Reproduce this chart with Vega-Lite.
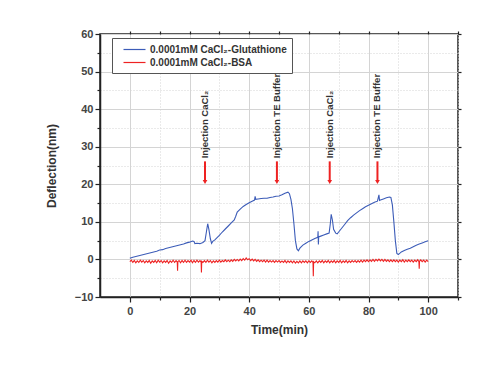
{
  "$schema": "https://vega.github.io/schema/vega-lite/v6.json",
  "width": 358,
  "height": 263,
  "autosize": {"type": "none"},
  "padding": {"left": 100, "top": 34, "right": 28, "bottom": 68},
  "background": "white",
  "config": {
    "font": "Liberation Sans",
    "view": {"stroke": "#222", "strokeWidth": 1.5},
    "axis": {"domainColor": "#222", "domainWidth": 1.5, "tickColor": "#222", "tickWidth": 1.2, "labelFontSize": 11, "labelFontWeight": "bold", "labelColor": "#444", "titleFontSize": 12, "titleFontWeight": "bold", "titleColor": "#333"}
  },
  "datasets": {
    "curves": [
      {"s": "0.0001mM CaCl₂-Glutathione", "t": 0, "v": 0.3},
      {"s": "0.0001mM CaCl₂-Glutathione", "t": 1, "v": 0.6},
      {"s": "0.0001mM CaCl₂-Glutathione", "t": 2, "v": 0.8},
      {"s": "0.0001mM CaCl₂-Glutathione", "t": 3, "v": 1.0},
      {"s": "0.0001mM CaCl₂-Glutathione", "t": 4, "v": 1.2},
      {"s": "0.0001mM CaCl₂-Glutathione", "t": 5, "v": 1.4},
      {"s": "0.0001mM CaCl₂-Glutathione", "t": 6, "v": 1.6},
      {"s": "0.0001mM CaCl₂-Glutathione", "t": 7, "v": 1.8},
      {"s": "0.0001mM CaCl₂-Glutathione", "t": 8, "v": 2.0},
      {"s": "0.0001mM CaCl₂-Glutathione", "t": 9, "v": 2.2},
      {"s": "0.0001mM CaCl₂-Glutathione", "t": 10, "v": 2.5},
      {"s": "0.0001mM CaCl₂-Glutathione", "t": 11, "v": 2.6},
      {"s": "0.0001mM CaCl₂-Glutathione", "t": 12, "v": 2.9},
      {"s": "0.0001mM CaCl₂-Glutathione", "t": 13, "v": 3.1},
      {"s": "0.0001mM CaCl₂-Glutathione", "t": 14, "v": 3.3},
      {"s": "0.0001mM CaCl₂-Glutathione", "t": 15, "v": 3.5},
      {"s": "0.0001mM CaCl₂-Glutathione", "t": 16, "v": 3.7},
      {"s": "0.0001mM CaCl₂-Glutathione", "t": 17, "v": 3.9},
      {"s": "0.0001mM CaCl₂-Glutathione", "t": 18, "v": 4.1},
      {"s": "0.0001mM CaCl₂-Glutathione", "t": 19, "v": 4.4},
      {"s": "0.0001mM CaCl₂-Glutathione", "t": 20, "v": 4.6},
      {"s": "0.0001mM CaCl₂-Glutathione", "t": 21, "v": 4.9},
      {"s": "0.0001mM CaCl₂-Glutathione", "t": 21.5, "v": 4.8},
      {"s": "0.0001mM CaCl₂-Glutathione", "t": 21.8, "v": 4.2},
      {"s": "0.0001mM CaCl₂-Glutathione", "t": 22.5, "v": 4.3},
      {"s": "0.0001mM CaCl₂-Glutathione", "t": 23.5, "v": 4.2},
      {"s": "0.0001mM CaCl₂-Glutathione", "t": 24.5, "v": 4.5},
      {"s": "0.0001mM CaCl₂-Glutathione", "t": 25.2, "v": 5.0},
      {"s": "0.0001mM CaCl₂-Glutathione", "t": 25.7, "v": 7.5},
      {"s": "0.0001mM CaCl₂-Glutathione", "t": 26.1, "v": 9.5},
      {"s": "0.0001mM CaCl₂-Glutathione", "t": 26.5, "v": 8.0},
      {"s": "0.0001mM CaCl₂-Glutathione", "t": 27, "v": 5.5},
      {"s": "0.0001mM CaCl₂-Glutathione", "t": 27.4, "v": 4.3},
      {"s": "0.0001mM CaCl₂-Glutathione", "t": 27.8, "v": 4.8},
      {"s": "0.0001mM CaCl₂-Glutathione", "t": 28.5, "v": 5.2},
      {"s": "0.0001mM CaCl₂-Glutathione", "t": 29, "v": 5.6},
      {"s": "0.0001mM CaCl₂-Glutathione", "t": 30, "v": 6.4},
      {"s": "0.0001mM CaCl₂-Glutathione", "t": 31, "v": 7.3},
      {"s": "0.0001mM CaCl₂-Glutathione", "t": 32, "v": 8.1},
      {"s": "0.0001mM CaCl₂-Glutathione", "t": 33, "v": 8.9},
      {"s": "0.0001mM CaCl₂-Glutathione", "t": 34, "v": 9.7},
      {"s": "0.0001mM CaCl₂-Glutathione", "t": 35, "v": 10.5},
      {"s": "0.0001mM CaCl₂-Glutathione", "t": 35.5, "v": 11.5},
      {"s": "0.0001mM CaCl₂-Glutathione", "t": 36, "v": 12.6},
      {"s": "0.0001mM CaCl₂-Glutathione", "t": 37, "v": 13.4},
      {"s": "0.0001mM CaCl₂-Glutathione", "t": 38, "v": 14.1},
      {"s": "0.0001mM CaCl₂-Glutathione", "t": 39, "v": 14.6},
      {"s": "0.0001mM CaCl₂-Glutathione", "t": 40, "v": 15.1},
      {"s": "0.0001mM CaCl₂-Glutathione", "t": 41, "v": 15.5},
      {"s": "0.0001mM CaCl₂-Glutathione", "t": 41.8, "v": 15.8},
      {"s": "0.0001mM CaCl₂-Glutathione", "t": 42, "v": 16.8},
      {"s": "0.0001mM CaCl₂-Glutathione", "t": 42.2, "v": 16.0},
      {"s": "0.0001mM CaCl₂-Glutathione", "t": 43, "v": 16.1},
      {"s": "0.0001mM CaCl₂-Glutathione", "t": 44, "v": 16.2},
      {"s": "0.0001mM CaCl₂-Glutathione", "t": 45, "v": 16.3},
      {"s": "0.0001mM CaCl₂-Glutathione", "t": 46, "v": 16.3},
      {"s": "0.0001mM CaCl₂-Glutathione", "t": 47, "v": 16.5},
      {"s": "0.0001mM CaCl₂-Glutathione", "t": 48, "v": 16.6},
      {"s": "0.0001mM CaCl₂-Glutathione", "t": 49, "v": 16.8},
      {"s": "0.0001mM CaCl₂-Glutathione", "t": 50, "v": 16.9},
      {"s": "0.0001mM CaCl₂-Glutathione", "t": 51, "v": 17.2},
      {"s": "0.0001mM CaCl₂-Glutathione", "t": 52, "v": 17.6},
      {"s": "0.0001mM CaCl₂-Glutathione", "t": 53, "v": 17.9},
      {"s": "0.0001mM CaCl₂-Glutathione", "t": 53.5, "v": 17.5},
      {"s": "0.0001mM CaCl₂-Glutathione", "t": 54, "v": 16.0},
      {"s": "0.0001mM CaCl₂-Glutathione", "t": 54.5, "v": 13.5},
      {"s": "0.0001mM CaCl₂-Glutathione", "t": 55, "v": 9.5},
      {"s": "0.0001mM CaCl₂-Glutathione", "t": 55.5, "v": 5.0},
      {"s": "0.0001mM CaCl₂-Glutathione", "t": 56, "v": 2.8},
      {"s": "0.0001mM CaCl₂-Glutathione", "t": 56.5, "v": 2.3},
      {"s": "0.0001mM CaCl₂-Glutathione", "t": 57, "v": 3.0},
      {"s": "0.0001mM CaCl₂-Glutathione", "t": 58, "v": 3.8},
      {"s": "0.0001mM CaCl₂-Glutathione", "t": 59, "v": 4.3},
      {"s": "0.0001mM CaCl₂-Glutathione", "t": 60, "v": 4.8},
      {"s": "0.0001mM CaCl₂-Glutathione", "t": 61, "v": 5.2},
      {"s": "0.0001mM CaCl₂-Glutathione", "t": 62, "v": 5.6},
      {"s": "0.0001mM CaCl₂-Glutathione", "t": 63, "v": 5.9},
      {"s": "0.0001mM CaCl₂-Glutathione", "t": 63.1, "v": 7.5},
      {"s": "0.0001mM CaCl₂-Glutathione", "t": 63.2, "v": 4.0},
      {"s": "0.0001mM CaCl₂-Glutathione", "t": 63.3, "v": 6.0},
      {"s": "0.0001mM CaCl₂-Glutathione", "t": 64, "v": 6.2},
      {"s": "0.0001mM CaCl₂-Glutathione", "t": 65, "v": 6.5},
      {"s": "0.0001mM CaCl₂-Glutathione", "t": 66, "v": 6.8},
      {"s": "0.0001mM CaCl₂-Glutathione", "t": 66.8, "v": 7.0},
      {"s": "0.0001mM CaCl₂-Glutathione", "t": 67.2, "v": 9.5},
      {"s": "0.0001mM CaCl₂-Glutathione", "t": 67.5, "v": 12.0},
      {"s": "0.0001mM CaCl₂-Glutathione", "t": 67.9, "v": 10.5},
      {"s": "0.0001mM CaCl₂-Glutathione", "t": 68.3, "v": 8.0},
      {"s": "0.0001mM CaCl₂-Glutathione", "t": 69, "v": 7.0},
      {"s": "0.0001mM CaCl₂-Glutathione", "t": 69.5, "v": 6.8},
      {"s": "0.0001mM CaCl₂-Glutathione", "t": 70, "v": 7.3},
      {"s": "0.0001mM CaCl₂-Glutathione", "t": 71, "v": 8.3},
      {"s": "0.0001mM CaCl₂-Glutathione", "t": 72, "v": 9.3},
      {"s": "0.0001mM CaCl₂-Glutathione", "t": 73, "v": 10.3},
      {"s": "0.0001mM CaCl₂-Glutathione", "t": 74, "v": 11.1},
      {"s": "0.0001mM CaCl₂-Glutathione", "t": 75, "v": 11.8},
      {"s": "0.0001mM CaCl₂-Glutathione", "t": 76, "v": 12.4},
      {"s": "0.0001mM CaCl₂-Glutathione", "t": 77, "v": 13.0},
      {"s": "0.0001mM CaCl₂-Glutathione", "t": 78, "v": 13.5},
      {"s": "0.0001mM CaCl₂-Glutathione", "t": 79, "v": 14.0},
      {"s": "0.0001mM CaCl₂-Glutathione", "t": 80, "v": 14.4},
      {"s": "0.0001mM CaCl₂-Glutathione", "t": 81, "v": 14.8},
      {"s": "0.0001mM CaCl₂-Glutathione", "t": 82, "v": 15.2},
      {"s": "0.0001mM CaCl₂-Glutathione", "t": 83, "v": 15.5},
      {"s": "0.0001mM CaCl₂-Glutathione", "t": 83.5, "v": 17.2},
      {"s": "0.0001mM CaCl₂-Glutathione", "t": 83.7, "v": 15.7},
      {"s": "0.0001mM CaCl₂-Glutathione", "t": 84, "v": 15.8},
      {"s": "0.0001mM CaCl₂-Glutathione", "t": 85, "v": 16.1},
      {"s": "0.0001mM CaCl₂-Glutathione", "t": 86, "v": 16.4},
      {"s": "0.0001mM CaCl₂-Glutathione", "t": 87, "v": 16.6},
      {"s": "0.0001mM CaCl₂-Glutathione", "t": 87.5, "v": 16.5},
      {"s": "0.0001mM CaCl₂-Glutathione", "t": 88, "v": 14.5},
      {"s": "0.0001mM CaCl₂-Glutathione", "t": 88.5, "v": 10.0},
      {"s": "0.0001mM CaCl₂-Glutathione", "t": 89, "v": 5.0},
      {"s": "0.0001mM CaCl₂-Glutathione", "t": 89.5, "v": 1.6},
      {"s": "0.0001mM CaCl₂-Glutathione", "t": 90, "v": 1.3},
      {"s": "0.0001mM CaCl₂-Glutathione", "t": 91, "v": 2.0},
      {"s": "0.0001mM CaCl₂-Glutathione", "t": 92, "v": 2.4},
      {"s": "0.0001mM CaCl₂-Glutathione", "t": 93, "v": 2.7},
      {"s": "0.0001mM CaCl₂-Glutathione", "t": 94, "v": 3.0},
      {"s": "0.0001mM CaCl₂-Glutathione", "t": 95, "v": 3.4},
      {"s": "0.0001mM CaCl₂-Glutathione", "t": 96, "v": 3.8},
      {"s": "0.0001mM CaCl₂-Glutathione", "t": 97, "v": 4.1},
      {"s": "0.0001mM CaCl₂-Glutathione", "t": 98, "v": 4.4},
      {"s": "0.0001mM CaCl₂-Glutathione", "t": 99, "v": 4.7},
      {"s": "0.0001mM CaCl₂-Glutathione", "t": 100, "v": 5.0},
      {"s": "0.0001mM CaCl₂-BSA", "t": 0, "v": -0.6},
      {"s": "0.0001mM CaCl₂-BSA", "t": 0.5, "v": -0.2},
      {"s": "0.0001mM CaCl₂-BSA", "t": 1, "v": -0.8},
      {"s": "0.0001mM CaCl₂-BSA", "t": 1.5, "v": -0.3},
      {"s": "0.0001mM CaCl₂-BSA", "t": 2, "v": -0.9},
      {"s": "0.0001mM CaCl₂-BSA", "t": 2.5, "v": -0.4},
      {"s": "0.0001mM CaCl₂-BSA", "t": 3, "v": -0.8},
      {"s": "0.0001mM CaCl₂-BSA", "t": 3.5, "v": -0.2},
      {"s": "0.0001mM CaCl₂-BSA", "t": 4, "v": -0.7},
      {"s": "0.0001mM CaCl₂-BSA", "t": 4.5, "v": -0.3},
      {"s": "0.0001mM CaCl₂-BSA", "t": 5, "v": -0.9},
      {"s": "0.0001mM CaCl₂-BSA", "t": 5.5, "v": -0.4},
      {"s": "0.0001mM CaCl₂-BSA", "t": 6, "v": -0.8},
      {"s": "0.0001mM CaCl₂-BSA", "t": 6.5, "v": -0.3},
      {"s": "0.0001mM CaCl₂-BSA", "t": 7, "v": -1.0},
      {"s": "0.0001mM CaCl₂-BSA", "t": 7.5, "v": -0.4},
      {"s": "0.0001mM CaCl₂-BSA", "t": 8, "v": -0.8},
      {"s": "0.0001mM CaCl₂-BSA", "t": 8.5, "v": -0.3},
      {"s": "0.0001mM CaCl₂-BSA", "t": 9, "v": -0.9},
      {"s": "0.0001mM CaCl₂-BSA", "t": 9.5, "v": -0.2},
      {"s": "0.0001mM CaCl₂-BSA", "t": 10, "v": -0.7},
      {"s": "0.0001mM CaCl₂-BSA", "t": 10.5, "v": -0.3},
      {"s": "0.0001mM CaCl₂-BSA", "t": 11, "v": -0.9},
      {"s": "0.0001mM CaCl₂-BSA", "t": 11.5, "v": -0.4},
      {"s": "0.0001mM CaCl₂-BSA", "t": 12, "v": -0.8},
      {"s": "0.0001mM CaCl₂-BSA", "t": 12.5, "v": -0.3},
      {"s": "0.0001mM CaCl₂-BSA", "t": 13, "v": -1.0},
      {"s": "0.0001mM CaCl₂-BSA", "t": 13.5, "v": -0.4},
      {"s": "0.0001mM CaCl₂-BSA", "t": 14, "v": -0.8},
      {"s": "0.0001mM CaCl₂-BSA", "t": 14.5, "v": -0.2},
      {"s": "0.0001mM CaCl₂-BSA", "t": 15, "v": -0.8},
      {"s": "0.0001mM CaCl₂-BSA", "t": 15.5, "v": -0.3},
      {"s": "0.0001mM CaCl₂-BSA", "t": 15.9, "v": -0.7},
      {"s": "0.0001mM CaCl₂-BSA", "t": 16, "v": -3.0},
      {"s": "0.0001mM CaCl₂-BSA", "t": 16.1, "v": -0.6},
      {"s": "0.0001mM CaCl₂-BSA", "t": 16.5, "v": -0.3},
      {"s": "0.0001mM CaCl₂-BSA", "t": 17, "v": -0.9},
      {"s": "0.0001mM CaCl₂-BSA", "t": 17.5, "v": -0.3},
      {"s": "0.0001mM CaCl₂-BSA", "t": 18, "v": -0.8},
      {"s": "0.0001mM CaCl₂-BSA", "t": 18.5, "v": -0.2},
      {"s": "0.0001mM CaCl₂-BSA", "t": 19, "v": -0.8},
      {"s": "0.0001mM CaCl₂-BSA", "t": 19.5, "v": -0.3},
      {"s": "0.0001mM CaCl₂-BSA", "t": 20, "v": -0.7},
      {"s": "0.0001mM CaCl₂-BSA", "t": 20.5, "v": -0.2},
      {"s": "0.0001mM CaCl₂-BSA", "t": 21, "v": -0.9},
      {"s": "0.0001mM CaCl₂-BSA", "t": 21.5, "v": -0.3},
      {"s": "0.0001mM CaCl₂-BSA", "t": 22, "v": -0.8},
      {"s": "0.0001mM CaCl₂-BSA", "t": 22.5, "v": -0.2},
      {"s": "0.0001mM CaCl₂-BSA", "t": 23, "v": -0.7},
      {"s": "0.0001mM CaCl₂-BSA", "t": 23.5, "v": -0.3},
      {"s": "0.0001mM CaCl₂-BSA", "t": 23.9, "v": -0.7},
      {"s": "0.0001mM CaCl₂-BSA", "t": 24, "v": -3.5},
      {"s": "0.0001mM CaCl₂-BSA", "t": 24.1, "v": -0.5},
      {"s": "0.0001mM CaCl₂-BSA", "t": 24.5, "v": -0.8},
      {"s": "0.0001mM CaCl₂-BSA", "t": 25, "v": -0.3},
      {"s": "0.0001mM CaCl₂-BSA", "t": 25.5, "v": -0.8},
      {"s": "0.0001mM CaCl₂-BSA", "t": 26, "v": -0.2},
      {"s": "0.0001mM CaCl₂-BSA", "t": 26.5, "v": -0.7},
      {"s": "0.0001mM CaCl₂-BSA", "t": 27, "v": -0.3},
      {"s": "0.0001mM CaCl₂-BSA", "t": 27.5, "v": -0.9},
      {"s": "0.0001mM CaCl₂-BSA", "t": 28, "v": -0.4},
      {"s": "0.0001mM CaCl₂-BSA", "t": 28.5, "v": -0.8},
      {"s": "0.0001mM CaCl₂-BSA", "t": 29, "v": -0.3},
      {"s": "0.0001mM CaCl₂-BSA", "t": 29.5, "v": -0.7},
      {"s": "0.0001mM CaCl₂-BSA", "t": 30, "v": -0.2},
      {"s": "0.0001mM CaCl₂-BSA", "t": 30.5, "v": -0.7},
      {"s": "0.0001mM CaCl₂-BSA", "t": 31, "v": -0.3},
      {"s": "0.0001mM CaCl₂-BSA", "t": 31.5, "v": -0.6},
      {"s": "0.0001mM CaCl₂-BSA", "t": 32, "v": -0.1},
      {"s": "0.0001mM CaCl₂-BSA", "t": 32.5, "v": -0.6},
      {"s": "0.0001mM CaCl₂-BSA", "t": 33, "v": -0.2},
      {"s": "0.0001mM CaCl₂-BSA", "t": 33.5, "v": -0.6},
      {"s": "0.0001mM CaCl₂-BSA", "t": 34, "v": -0.1},
      {"s": "0.0001mM CaCl₂-BSA", "t": 34.5, "v": -0.5},
      {"s": "0.0001mM CaCl₂-BSA", "t": 35, "v": 0.0},
      {"s": "0.0001mM CaCl₂-BSA", "t": 35.5, "v": -0.4},
      {"s": "0.0001mM CaCl₂-BSA", "t": 36, "v": 0.0},
      {"s": "0.0001mM CaCl₂-BSA", "t": 36.5, "v": -0.4},
      {"s": "0.0001mM CaCl₂-BSA", "t": 37, "v": 0.1},
      {"s": "0.0001mM CaCl₂-BSA", "t": 37.5, "v": -0.3},
      {"s": "0.0001mM CaCl₂-BSA", "t": 38, "v": 0.2},
      {"s": "0.0001mM CaCl₂-BSA", "t": 38.5, "v": -0.2},
      {"s": "0.0001mM CaCl₂-BSA", "t": 39, "v": 0.4},
      {"s": "0.0001mM CaCl₂-BSA", "t": 39.5, "v": -0.1},
      {"s": "0.0001mM CaCl₂-BSA", "t": 40, "v": 0.2},
      {"s": "0.0001mM CaCl₂-BSA", "t": 40.5, "v": -0.3},
      {"s": "0.0001mM CaCl₂-BSA", "t": 41, "v": 0.1},
      {"s": "0.0001mM CaCl₂-BSA", "t": 41.5, "v": -0.4},
      {"s": "0.0001mM CaCl₂-BSA", "t": 42, "v": 0.0},
      {"s": "0.0001mM CaCl₂-BSA", "t": 42.5, "v": -0.5},
      {"s": "0.0001mM CaCl₂-BSA", "t": 43, "v": -0.1},
      {"s": "0.0001mM CaCl₂-BSA", "t": 43.5, "v": -0.6},
      {"s": "0.0001mM CaCl₂-BSA", "t": 44, "v": -0.2},
      {"s": "0.0001mM CaCl₂-BSA", "t": 44.5, "v": -0.6},
      {"s": "0.0001mM CaCl₂-BSA", "t": 45, "v": -0.2},
      {"s": "0.0001mM CaCl₂-BSA", "t": 45.5, "v": -0.7},
      {"s": "0.0001mM CaCl₂-BSA", "t": 46, "v": -0.2},
      {"s": "0.0001mM CaCl₂-BSA", "t": 46.5, "v": -0.7},
      {"s": "0.0001mM CaCl₂-BSA", "t": 47, "v": -0.3},
      {"s": "0.0001mM CaCl₂-BSA", "t": 47.5, "v": -0.7},
      {"s": "0.0001mM CaCl₂-BSA", "t": 48, "v": -0.3},
      {"s": "0.0001mM CaCl₂-BSA", "t": 48.5, "v": -0.8},
      {"s": "0.0001mM CaCl₂-BSA", "t": 49, "v": -0.3},
      {"s": "0.0001mM CaCl₂-BSA", "t": 49.5, "v": -0.7},
      {"s": "0.0001mM CaCl₂-BSA", "t": 50, "v": -0.3},
      {"s": "0.0001mM CaCl₂-BSA", "t": 50.5, "v": -0.8},
      {"s": "0.0001mM CaCl₂-BSA", "t": 51, "v": -0.4},
      {"s": "0.0001mM CaCl₂-BSA", "t": 51.5, "v": -0.8},
      {"s": "0.0001mM CaCl₂-BSA", "t": 52, "v": -0.3},
      {"s": "0.0001mM CaCl₂-BSA", "t": 52.5, "v": -0.9},
      {"s": "0.0001mM CaCl₂-BSA", "t": 53, "v": -0.4},
      {"s": "0.0001mM CaCl₂-BSA", "t": 53.5, "v": -0.8},
      {"s": "0.0001mM CaCl₂-BSA", "t": 54, "v": -0.4},
      {"s": "0.0001mM CaCl₂-BSA", "t": 54.5, "v": -0.9},
      {"s": "0.0001mM CaCl₂-BSA", "t": 55, "v": -0.4},
      {"s": "0.0001mM CaCl₂-BSA", "t": 55.5, "v": -1.0},
      {"s": "0.0001mM CaCl₂-BSA", "t": 56, "v": -0.5},
      {"s": "0.0001mM CaCl₂-BSA", "t": 56.5, "v": -0.9},
      {"s": "0.0001mM CaCl₂-BSA", "t": 57, "v": -0.4},
      {"s": "0.0001mM CaCl₂-BSA", "t": 57.5, "v": -0.9},
      {"s": "0.0001mM CaCl₂-BSA", "t": 58, "v": -0.4},
      {"s": "0.0001mM CaCl₂-BSA", "t": 58.5, "v": -0.8},
      {"s": "0.0001mM CaCl₂-BSA", "t": 59, "v": -0.4},
      {"s": "0.0001mM CaCl₂-BSA", "t": 59.5, "v": -0.9},
      {"s": "0.0001mM CaCl₂-BSA", "t": 60, "v": -0.4},
      {"s": "0.0001mM CaCl₂-BSA", "t": 60.5, "v": -0.8},
      {"s": "0.0001mM CaCl₂-BSA", "t": 61, "v": -0.4},
      {"s": "0.0001mM CaCl₂-BSA", "t": 61.4, "v": -0.8},
      {"s": "0.0001mM CaCl₂-BSA", "t": 61.5, "v": -4.5},
      {"s": "0.0001mM CaCl₂-BSA", "t": 61.6, "v": -0.6},
      {"s": "0.0001mM CaCl₂-BSA", "t": 62, "v": -0.9},
      {"s": "0.0001mM CaCl₂-BSA", "t": 62.5, "v": -0.4},
      {"s": "0.0001mM CaCl₂-BSA", "t": 63, "v": -0.9},
      {"s": "0.0001mM CaCl₂-BSA", "t": 63.5, "v": -0.4},
      {"s": "0.0001mM CaCl₂-BSA", "t": 64, "v": -0.8},
      {"s": "0.0001mM CaCl₂-BSA", "t": 64.5, "v": -0.3},
      {"s": "0.0001mM CaCl₂-BSA", "t": 65, "v": -0.9},
      {"s": "0.0001mM CaCl₂-BSA", "t": 65.5, "v": -0.4},
      {"s": "0.0001mM CaCl₂-BSA", "t": 66, "v": -0.8},
      {"s": "0.0001mM CaCl₂-BSA", "t": 66.5, "v": -0.3},
      {"s": "0.0001mM CaCl₂-BSA", "t": 67, "v": -0.9},
      {"s": "0.0001mM CaCl₂-BSA", "t": 67.5, "v": -0.4},
      {"s": "0.0001mM CaCl₂-BSA", "t": 68, "v": -0.8},
      {"s": "0.0001mM CaCl₂-BSA", "t": 68.5, "v": -0.3},
      {"s": "0.0001mM CaCl₂-BSA", "t": 69, "v": -0.9},
      {"s": "0.0001mM CaCl₂-BSA", "t": 69.5, "v": -0.4},
      {"s": "0.0001mM CaCl₂-BSA", "t": 70, "v": -0.8},
      {"s": "0.0001mM CaCl₂-BSA", "t": 70.5, "v": -0.3},
      {"s": "0.0001mM CaCl₂-BSA", "t": 71, "v": -0.9},
      {"s": "0.0001mM CaCl₂-BSA", "t": 71.5, "v": -0.4},
      {"s": "0.0001mM CaCl₂-BSA", "t": 72, "v": -0.8},
      {"s": "0.0001mM CaCl₂-BSA", "t": 72.5, "v": -0.3},
      {"s": "0.0001mM CaCl₂-BSA", "t": 73, "v": -0.9},
      {"s": "0.0001mM CaCl₂-BSA", "t": 73.5, "v": -0.4},
      {"s": "0.0001mM CaCl₂-BSA", "t": 74, "v": -0.8},
      {"s": "0.0001mM CaCl₂-BSA", "t": 74.5, "v": -0.3},
      {"s": "0.0001mM CaCl₂-BSA", "t": 75, "v": -0.7},
      {"s": "0.0001mM CaCl₂-BSA", "t": 75.5, "v": -0.3},
      {"s": "0.0001mM CaCl₂-BSA", "t": 76, "v": -0.8},
      {"s": "0.0001mM CaCl₂-BSA", "t": 76.5, "v": -0.3},
      {"s": "0.0001mM CaCl₂-BSA", "t": 77, "v": -0.7},
      {"s": "0.0001mM CaCl₂-BSA", "t": 77.5, "v": -0.2},
      {"s": "0.0001mM CaCl₂-BSA", "t": 78, "v": -0.7},
      {"s": "0.0001mM CaCl₂-BSA", "t": 78.5, "v": -0.2},
      {"s": "0.0001mM CaCl₂-BSA", "t": 79, "v": -0.6},
      {"s": "0.0001mM CaCl₂-BSA", "t": 79.5, "v": -0.1},
      {"s": "0.0001mM CaCl₂-BSA", "t": 80, "v": -0.6},
      {"s": "0.0001mM CaCl₂-BSA", "t": 80.5, "v": -0.1},
      {"s": "0.0001mM CaCl₂-BSA", "t": 81, "v": -0.5},
      {"s": "0.0001mM CaCl₂-BSA", "t": 81.5, "v": 0.0},
      {"s": "0.0001mM CaCl₂-BSA", "t": 82, "v": -0.5},
      {"s": "0.0001mM CaCl₂-BSA", "t": 82.5, "v": 0.0},
      {"s": "0.0001mM CaCl₂-BSA", "t": 83, "v": -0.4},
      {"s": "0.0001mM CaCl₂-BSA", "t": 83.5, "v": 0.1},
      {"s": "0.0001mM CaCl₂-BSA", "t": 84, "v": -0.4},
      {"s": "0.0001mM CaCl₂-BSA", "t": 84.5, "v": 0.0},
      {"s": "0.0001mM CaCl₂-BSA", "t": 85, "v": -0.5},
      {"s": "0.0001mM CaCl₂-BSA", "t": 85.5, "v": 0.0},
      {"s": "0.0001mM CaCl₂-BSA", "t": 86, "v": -0.5},
      {"s": "0.0001mM CaCl₂-BSA", "t": 86.5, "v": -0.1},
      {"s": "0.0001mM CaCl₂-BSA", "t": 87, "v": -0.6},
      {"s": "0.0001mM CaCl₂-BSA", "t": 87.5, "v": -0.1},
      {"s": "0.0001mM CaCl₂-BSA", "t": 88, "v": -0.6},
      {"s": "0.0001mM CaCl₂-BSA", "t": 88.5, "v": -0.1},
      {"s": "0.0001mM CaCl₂-BSA", "t": 89, "v": -0.6},
      {"s": "0.0001mM CaCl₂-BSA", "t": 89.5, "v": -0.2},
      {"s": "0.0001mM CaCl₂-BSA", "t": 90, "v": -0.7},
      {"s": "0.0001mM CaCl₂-BSA", "t": 90.5, "v": -0.2},
      {"s": "0.0001mM CaCl₂-BSA", "t": 91, "v": -0.6},
      {"s": "0.0001mM CaCl₂-BSA", "t": 91.5, "v": -0.1},
      {"s": "0.0001mM CaCl₂-BSA", "t": 92, "v": -0.7},
      {"s": "0.0001mM CaCl₂-BSA", "t": 92.5, "v": -0.2},
      {"s": "0.0001mM CaCl₂-BSA", "t": 93, "v": -0.6},
      {"s": "0.0001mM CaCl₂-BSA", "t": 93.5, "v": -0.1},
      {"s": "0.0001mM CaCl₂-BSA", "t": 94, "v": -0.6},
      {"s": "0.0001mM CaCl₂-BSA", "t": 94.5, "v": -0.2},
      {"s": "0.0001mM CaCl₂-BSA", "t": 95, "v": -0.7},
      {"s": "0.0001mM CaCl₂-BSA", "t": 95.5, "v": -0.2},
      {"s": "0.0001mM CaCl₂-BSA", "t": 96, "v": -0.6},
      {"s": "0.0001mM CaCl₂-BSA", "t": 96.5, "v": -0.1},
      {"s": "0.0001mM CaCl₂-BSA", "t": 96.9, "v": -0.6},
      {"s": "0.0001mM CaCl₂-BSA", "t": 97, "v": -2.5},
      {"s": "0.0001mM CaCl₂-BSA", "t": 97.1, "v": -0.5},
      {"s": "0.0001mM CaCl₂-BSA", "t": 97.5, "v": -0.1},
      {"s": "0.0001mM CaCl₂-BSA", "t": 98, "v": -0.6},
      {"s": "0.0001mM CaCl₂-BSA", "t": 98.5, "v": -0.2},
      {"s": "0.0001mM CaCl₂-BSA", "t": 99, "v": -0.7},
      {"s": "0.0001mM CaCl₂-BSA", "t": 99.5, "v": -0.2},
      {"s": "0.0001mM CaCl₂-BSA", "t": 100, "v": -0.6}
    ],
    "events": [
      {"t": 25.2, "label": "Injection CaCl₂"},
      {"t": 49.3, "label": "Injection TE Buffer"},
      {"t": 67.0, "label": "Injection CaCl₂"},
      {"t": 83.0, "label": "Injection TE Buffer"}
    ]
  },
  "resolve": {"axis": {"x": "independent", "y": "independent"}},
  "layer": [
    {
      "data": {"name": "curves"},
      "mark": {"type": "line", "strokeWidth": 1.1, "clip": true},
      "encoding": {
        "x": {
          "field": "t", "type": "quantitative",
          "scale": {"domain": [-10, 110], "nice": false, "zero": false},
          "axis": {
            "title": "Time(min)",
            "values": [0, 10, 20, 30, 40, 50, 60, 70, 80, 90, 100, 110],
            "labelExpr": "datum.value % 20 == 0 && datum.value <= 100 ? datum.label : ''",
            "grid": true,
            "gridColor": "#d4d4d4",
            "gridDash": {"condition": {"test": "datum.value % 20 == 0", "value": []}, "value": [1, 2]},
            "gridWidth": 1,
            "tickSize": {"condition": {"test": "datum.value % 20 == 0", "value": 5}, "value": 3},
            "labelPadding": 3,
            "titlePadding": 8
          }
        },
        "y": {
          "field": "v", "type": "quantitative",
          "scale": {"domain": [-10, 60], "nice": false, "zero": false},
          "axis": {
            "title": "Deflection(nm)",
            "values": [-10, -5, 0, 5, 10, 15, 20, 25, 30, 35, 40, 45, 50, 55, 60],
            "labelExpr": "datum.value % 10 == 0 ? datum.label : ''",
            "grid": true,
            "gridColor": "#d4d4d4",
            "gridDash": {"condition": {"test": "datum.value % 10 == 0", "value": []}, "value": [1, 2]},
            "gridWidth": 1,
            "tickSize": {"condition": {"test": "datum.value % 10 == 0", "value": 5}, "value": 3},
            "labelPadding": 2,
            "titlePadding": 16
          }
        },
        "color": {
          "field": "s", "type": "nominal",
          "scale": {"domain": ["0.0001mM CaCl₂-Glutathione", "0.0001mM CaCl₂-BSA"], "range": ["#3c5cb8", "#ee2222"]},
          "legend": {
            "title": null,
            "orient": "none",
            "legendX": 12,
            "legendY": 4,
            "direction": "vertical",
            "strokeColor": "#555",
            "fillColor": "white",
            "padding": 5,
            "symbolType": "M0,0H4",
            "symbolSize": 121,
            "symbolStrokeWidth": 1.2,
            "labelOffset": 20,
            "labelFontSize": 10,
            "labelFontWeight": "bold",
            "labelColor": "#333",
            "rowPadding": 1
          }
        }
      }
    },
    {
      "data": {"name": "events"},
      "mark": {"type": "rule", "color": "#ee2222", "strokeWidth": 2},
      "encoding": {
        "x": {"field": "t", "type": "quantitative", "axis": {"orient": "top", "labels": false, "title": null, "grid": false, "domain": false, "values": [0, 10, 20, 30, 40, 50, 60, 70, 80, 90, 100, 110], "tickSize": 3}},
        "y": {"datum": 26.1, "axis": {"orient": "right", "labels": false, "title": null, "grid": false, "domain": false, "values": [-10, 0, 10, 20, 30, 40, 50, 60], "tickSize": 3}},
        "y2": {"datum": 21}
      }
    },
    {
      "data": {"name": "events"},
      "mark": {"type": "point", "shape": "triangle-down", "filled": true, "color": "#ee2222", "size": 22, "opacity": 1},
      "encoding": {
        "x": {"field": "t", "type": "quantitative", "axis": null},
        "y": {"datum": 20.6, "axis": null}
      }
    },
    {
      "data": {"name": "events"},
      "mark": {"type": "text", "angle": 270, "align": "left", "baseline": "middle", "fontSize": 9.5, "fontWeight": "bold", "color": "#333"},
      "encoding": {
        "x": {"field": "t", "type": "quantitative", "axis": null},
        "y": {"datum": 26.9, "axis": null},
        "text": {"field": "label"}
      }
    }
  ]
}
